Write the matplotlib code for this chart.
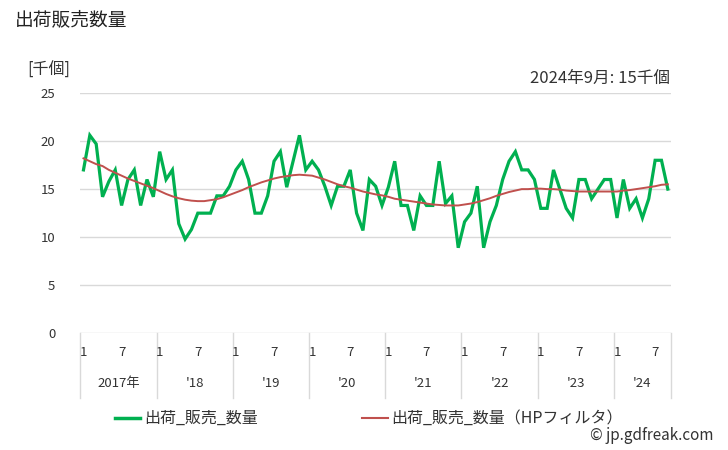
import matplotlib
matplotlib.use("Agg")
import matplotlib.pyplot as plt
import numpy as np

plt.rcParams['font.family'] = ['Noto Sans CJK JP', 'DejaVu Sans']

years = ["2017年", "'18", "'19", "'20", "'21", "'22", "'23", "'24"]
months_per_year = [12, 12, 12, 12, 12, 12, 12, 9]

shipments = [
    17.0, 20.6, 19.7, 14.2, 15.8, 17.0, 13.3, 16.0, 17.0, 13.3, 16.0, 14.2,
    18.9, 16.0, 17.0, 11.4, 9.8, 10.8, 12.5, 12.5, 12.5, 14.3, 14.3, 15.3,
    17.0, 17.9, 16.0, 12.5, 12.5, 14.3, 17.9, 18.9, 15.2, 17.9, 20.6, 17.0,
    17.9, 17.0, 15.3, 13.3, 15.3, 15.3, 17.0, 12.5, 10.7, 16.0, 15.3, 13.3,
    15.2, 17.9, 13.3, 13.3, 10.7, 14.3, 13.3, 13.3, 17.9, 13.5, 14.3, 8.9,
    11.6, 12.5, 15.3, 8.9, 11.6, 13.3, 16.0, 17.9, 18.9, 17.0, 17.0, 16.0,
    13.0, 13.0, 17.0, 15.0, 13.0, 12.0, 16.0, 16.0, 14.0, 15.0, 16.0, 16.0,
    12.0, 16.0, 13.0, 14.0, 12.0, 14.0, 18.0, 18.0, 15.0,
]

hp_trend = [
    18.2, 17.9, 17.6, 17.4, 17.0, 16.7, 16.4, 16.1, 15.85, 15.6, 15.35, 15.1,
    14.8, 14.5, 14.25, 14.05, 13.9, 13.8, 13.75, 13.75, 13.85, 13.95, 14.15, 14.4,
    14.65, 14.9, 15.2, 15.45, 15.7, 15.9, 16.1, 16.25, 16.35, 16.45, 16.5, 16.45,
    16.4, 16.2, 16.0, 15.75, 15.5, 15.3, 15.15, 14.95, 14.75, 14.6, 14.45, 14.35,
    14.2, 14.0, 13.9, 13.8, 13.7, 13.6, 13.5, 13.4, 13.35, 13.3, 13.3, 13.3,
    13.4, 13.5, 13.65, 13.85, 14.05, 14.3, 14.5, 14.7, 14.85, 15.0, 15.0, 15.05,
    15.05, 15.0, 15.0, 14.95, 14.85, 14.8, 14.75, 14.75, 14.75, 14.75, 14.75, 14.75,
    14.75, 14.85, 14.9, 15.0, 15.1, 15.2, 15.3, 15.45, 15.5,
]

y_ticks = [0, 5, 10, 15, 20, 25]
month_tick_labels = ["1", "7"]

GREEN = "#00b050"
RED = "#c0504d"
GRID = "#d9d9d9"
TXT = "#333333"

fig = plt.figure(figsize=(7.28, 4.5), dpi=100)
ax = fig.add_axes([80.3 / 728, 1 - 333.3 / 450, (671 - 80.3) / 728, (333.3 - 93) / 450])

x = np.arange(len(shipments))
ax.plot(x, shipments, color=GREEN, lw=2.3, solid_joinstyle='miter', zorder=3)
ax.plot(x, hp_trend, color=RED, lw=1.4, zorder=4)

ax.set_xlim(-0.5, len(shipments) - 0.5)
ax.set_ylim(0, 25)
ax.set_yticks(y_ticks)
ax.set_yticklabels([str(v) for v in y_ticks], fontsize=9.5, color=TXT)
ax.tick_params(axis='y', length=0, pad=18)
ax.set_xticks([])
for s in ax.spines.values():
    s.set_visible(False)
ax.grid(axis='y', color=GRID, lw=1)
ax.set_axisbelow(True)

# Category axis: month labels, year labels and separators
tr = ax.get_xaxis_transform()
ax_h = 333.3 - 93
start = 0
for yr, n in zip(years, months_per_year):
    ax.plot([start - 0.5, start - 0.5], [0, -65 / ax_h], transform=tr, color=GRID, lw=1, clip_on=False)
    ax.text(start, -19 / ax_h, month_tick_labels[0], transform=tr, ha='center', va='center', fontsize=9.5, color=TXT)
    if n > 6:
        ax.text(start + 6, -19 / ax_h, month_tick_labels[1], transform=tr, ha='center', va='center', fontsize=9.5, color=TXT)
    ax.text(start + (n - 1) / 2, -50 / ax_h, yr, transform=tr, ha='center', va='center', fontsize=9.5, color=TXT)
    start += n
ax.plot([start - 0.5, start - 0.5], [0, -65 / ax_h], transform=tr, color=GRID, lw=1, clip_on=False)

# Titles and annotations
fig.text(15 / 728, 1 - 20 / 450, "出荷販売数量", fontsize=13.5, va='center', ha='left', color="#222222")
fig.text(27 / 728, 1 - 70 / 450, "[千個]", fontsize=11.5, va='center', ha='left', color=TXT)
fig.text(670 / 728, 1 - 78 / 450, "2024年9月: 15千個", fontsize=12, va='center', ha='right', color=TXT)

# Legend
ly = 1 - 418 / 450
fig.add_artist(plt.Line2D([115 / 728, 140 / 728], [ly, ly], color=GREEN, lw=2.5, transform=fig.transFigure))
fig.text(144 / 728, ly, "出荷_販売_数量", fontsize=11.5, va='center', ha='left', color=TXT)
fig.add_artist(plt.Line2D([362 / 728, 388 / 728], [ly, ly], color=RED, lw=1.5, transform=fig.transFigure))
fig.text(391 / 728, ly, "出荷_販売_数量（HPフィルタ）", fontsize=11.5, va='center', ha='left', color=TXT)

fig.text(714 / 728, 1 - 436 / 450, "© jp.gdfreak.com", fontsize=11, va='center', ha='right', color=TXT)

fig.savefig("out.png", dpi=100)
